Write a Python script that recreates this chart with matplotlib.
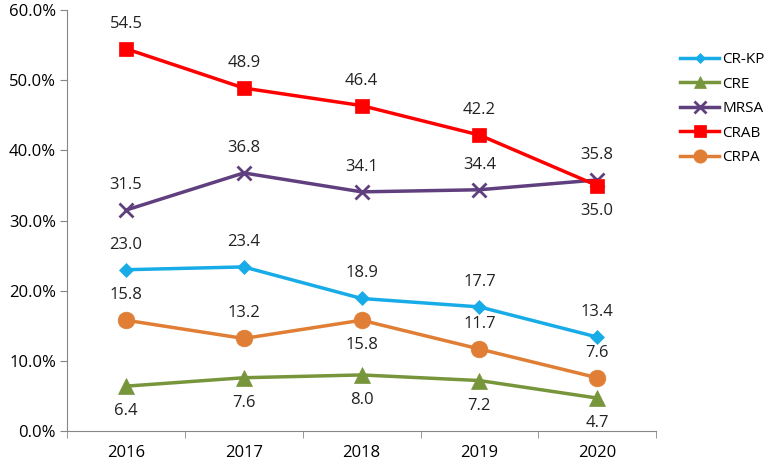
import matplotlib.pyplot as plt
from matplotlib.ticker import FuncFormatter

plt.rcParams['font.family'] = ['Open Sans', 'DejaVu Sans']

years = ['2016', '2017', '2018', '2019', '2020']
cr_kp = [23.0, 23.4, 18.9, 17.7, 13.4]
cre = [6.4, 7.6, 8.0, 7.2, 4.7]
mrsa = [31.5, 36.8, 34.1, 34.4, 35.8]
crab = [54.5, 48.9, 46.4, 42.2, 35.0]
crpa = [15.8, 13.2, 15.8, 11.7, 7.6]

# label placement per point: +1 above, -1 below
series = [
    ('CR-KP', cr_kp, '#17ACE8', 'D', 7, [1, 1, 1, 1, 1]),
    ('CRE', cre, '#77953B', '^', 11, [-1, -1, -1, -1, -1]),
    ('MRSA', mrsa, '#603F7F', 'x', 10, [1, 1, 1, 1, 1]),
    ('CRAB', crab, '#FF0000', 's', 10, [1, 1, 1, 1, -1]),
    ('CRPA', crpa, '#DF7E34', 'o', 12, [1, 1, -1, 1, 1]),
]

fig = plt.figure(figsize=(7.71, 4.63), dpi=100)
ax = fig.add_axes([0.087, 0.069, 0.764, 0.909])
x = list(range(len(years)))
gray = '#868686'

for name, vals, col, mk, ms, pos in series:
    ax.plot(x, vals, color=col, lw=2.5, marker=mk, markersize=ms,
            markeredgewidth=2 if mk == 'x' else 0.5, markeredgecolor=col,
            label=name)
    for xi, v, p in zip(x, vals, pos):
        ax.annotate(f'{v:.1f}', (xi, v), xytext=(0, 18 * p), textcoords='offset points',
                    ha='center', va='center', fontsize=12, color='#222222')

ax.set_xlim(-0.5, 4.5)
ax.set_ylim(0, 60)
ax.set_yticks(range(0, 61, 10))
ax.yaxis.set_major_formatter(FuncFormatter(lambda v, _: f'{v:.1f}%'))
ax.set_xticks(x)
ax.set_xticklabels(years)
ax.set_xticks([i - 0.5 for i in range(6)], minor=True)
ax.tick_params(axis='x', which='major', length=0, pad=10, labelsize=12)
ax.tick_params(axis='x', which='minor', length=5, color=gray)
ax.tick_params(axis='y', length=5, color=gray, labelsize=12, pad=3)
for s in ['top', 'right']:
    ax.spines[s].set_visible(False)
for s in ['left', 'bottom']:
    ax.spines[s].set_color(gray)

ax.legend(loc='upper left', bbox_to_anchor=(1.04, 0.9), frameon=False, fontsize=11,
          handlelength=2.6, labelspacing=0.62, handletextpad=0.2, borderaxespad=0,
          borderpad=0, markerscale=0.8)

fig.savefig('out.png', dpi=100)
